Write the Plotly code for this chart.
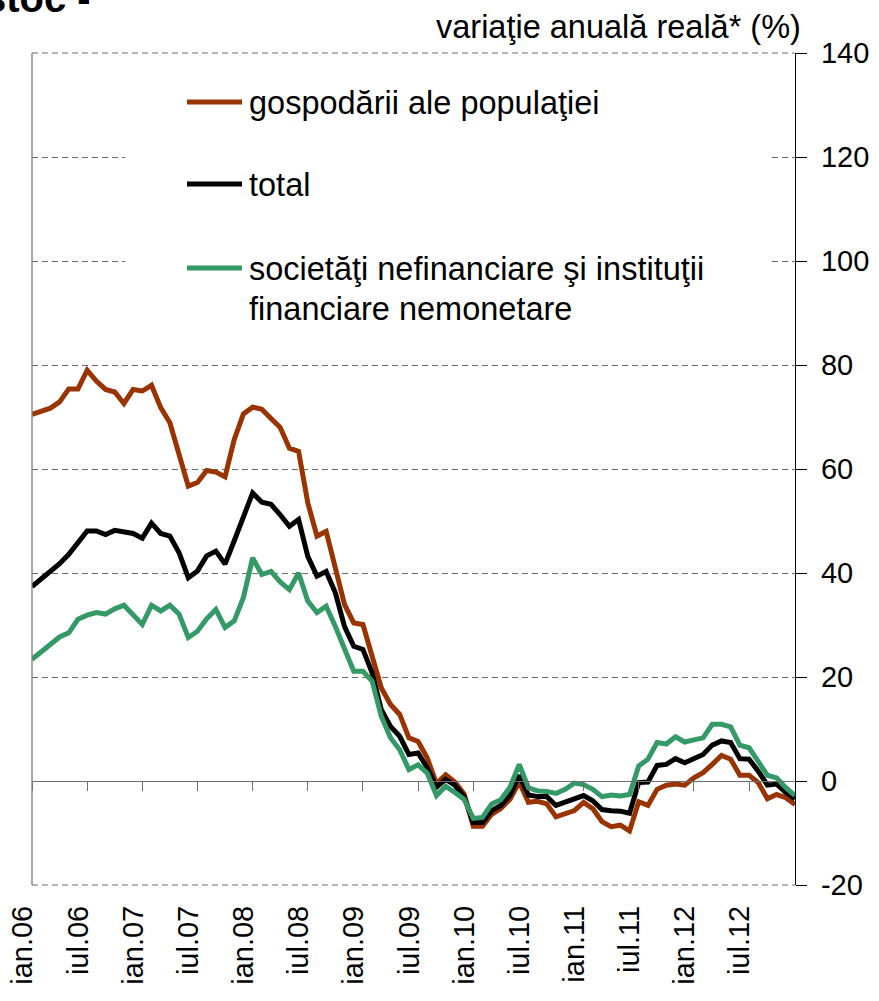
import plotly.graph_objects as go

# ---- data ----
month_abbr = ["ian", "feb", "mar", "apr", "mai", "iun", "iul", "aug", "sep", "oct", "noi", "dec"]
years = ["06", "07", "08", "09", "10", "11", "12"]
months = [f"{m}.{y}" for y in years for m in month_abbr]  # ian.06 ... dec.12

tick_labels = ["ian.06", "iul.06", "ian.07", "iul.07", "ian.08", "iul.08", "ian.09",
               "iul.09", "ian.10", "iul.10", "ian.11", "iul.11", "ian.12", "iul.12"]

gospodarii = [70.5, 71.2, 71.7, 72.9, 75.4, 75.4, 79.0, 76.9, 75.3, 74.8,
              72.6, 75.3, 75.0, 76.1, 71.8, 68.9, 63.1, 56.7, 57.4, 59.7,
              59.4, 58.5, 65.7, 70.6, 71.9, 71.5, 69.7, 68.0, 64.0, 63.4,
              53.5, 47.1, 48.0, 41.3, 33.9, 30.4, 30.1, 24.0, 17.9, 14.7,
              12.8, 8.3, 7.6, 4.4, -0.5, 1.2, -0.2, -2.5, -8.7, -8.7,
              -6.4, -5.3, -3.5, -0.2, -4.1, -3.9, -4.4, -6.9, -6.2, -5.7,
              -4.1, -5.3, -7.8, -8.8, -8.5, -9.6, -4.0, -4.7, -1.6, -0.8,
              -0.6, -0.8, 0.6, 1.6, 3.2, 4.9, 4.2, 1.1, 1.1, -0.3,
              -3.4, -2.6, -3.2, -4.5]

total = [37.4, 38.8, 40.1, 41.8, 43.6, 45.8, 48.1, 48.1, 47.4, 48.2,
         47.9, 47.6, 46.7, 49.6, 47.6, 47.1, 43.9, 39.1, 40.4, 43.3,
         44.2, 41.7, 46.2, 51.0, 55.4, 53.6, 53.2, 51.2, 49.0, 50.3,
         43.2, 39.4, 40.3, 36.2, 29.7, 25.9, 25.3, 20.8, 13.7, 10.5,
         8.6, 5.1, 5.4, 2.5, -1.2, 0.3, -0.8, -3.0, -8.0, -8.0,
         -5.7, -4.7, -2.7, 1.1, -2.7, -3.0, -3.0, -4.7, -4.1, -3.4,
         -2.8, -3.8, -5.5, -5.7, -5.8, -6.2, -0.3, -0.2, 3.0, 3.2,
         4.3, 3.5, 4.3, 5.1, 6.9, 7.7, 7.4, 4.3, 4.2, 1.9,
         -0.8, -0.6, -2.2, -3.4]

societati = [23.4, 24.8, 26.3, 27.7, 28.5, 31.1, 31.9, 32.4, 32.1, 33.1,
             33.8, 32.1, 30.1, 33.8, 32.7, 33.8, 32.1, 27.6, 28.8, 31.2,
             33.0, 29.5, 30.8, 35.3, 42.9, 39.7, 40.3, 38.3, 36.8, 40.0,
             34.6, 32.4, 33.6, 29.7, 25.3, 21.1, 21.1, 19.2, 12.4, 8.3,
             6.0, 2.2, 3.1, 1.5, -2.8, -1.0, -2.2, -3.5, -7.2, -7.0,
             -4.4, -3.6, -1.2, 3.2, -1.3, -1.9, -2.0, -2.4, -1.6, -0.4,
             -0.7, -1.6, -3.0, -2.7, -2.9, -2.6, 2.9, 4.2, 7.4, 7.1,
             8.5, 7.5, 7.9, 8.3, 10.9, 10.9, 10.4, 6.9, 6.4, 3.8,
             1.1, 0.6, -1.3, -2.8]

y_ticks = [-20, 0, 20, 40, 60, 80, 100, 120, 140]
y_tick_text = [str(v) for v in y_ticks]

names = ["gospodării ale populaţiei", "total",
         "societăţi nefinanciare şi instituţii", "financiare nemonetare"]

BROWN = "#993300"
BLACK = "#000000"
GREEN = "#339966"
GRID = "#6a6a6a"
FONT = "Liberation Sans, Arial, sans-serif"
LW = 5

fig = go.Figure()
fig.add_trace(go.Scatter(x=months, y=gospodarii, mode="lines", name=names[0],
                         line=dict(color=BROWN, width=LW), showlegend=False))
fig.add_trace(go.Scatter(x=months, y=total, mode="lines", name=names[1],
                         line=dict(color=BLACK, width=LW), showlegend=False))
fig.add_trace(go.Scatter(x=months, y=societati, mode="lines",
                         name=names[2] + " " + names[3],
                         line=dict(color=GREEN, width=LW), showlegend=False))
# empty trace to carry the axis drawn on the zero line
fig.add_trace(go.Scatter(x=[], y=[], xaxis="x2", showlegend=False, hoverinfo="skip"))

L, R, T, B = 32, 84, 53, 116
W, H = 879, 1001
pw = W - L - R
ph = H - T - B

def px_x(px):
    return (px - L) / pw

def px_y(py):
    return (H - B - py) / ph

tick_idx = [months.index(t) for t in tick_labels]
zero_pos = (0 - y_ticks[0]) / (y_ticks[-1] - y_ticks[0])

fig.update_layout(
    width=W, height=H,
    margin=dict(l=L, r=R, t=T, b=B, autoexpand=False),
    paper_bgcolor="white", plot_bgcolor="white",
    font=dict(family=FONT, size=29, color="black"),
    xaxis=dict(
        type="category", range=[0, len(months) - 1], automargin=False,
        tickmode="array", tickvals=tick_labels, ticktext=tick_labels,
        tickangle=-90, ticks="", showline=False, showgrid=False, zeroline=False,
        tickfont=dict(size=29), ticklabelshift=-9, ticklabelstandoff=14,
    ),
    xaxis2=dict(
        overlaying="x", anchor="free", position=zero_pos,
        range=[0, len(months) - 1], tickmode="array", tickvals=tick_idx,
        showticklabels=False, ticks="outside", ticklen=9, tickcolor="#6e6e6e",
        showline=True, linecolor="#6e6e6e", linewidth=1.3,
        showgrid=False, zeroline=False, automargin=False,
    ),
    yaxis=dict(
        side="right", range=[y_ticks[0], y_ticks[-1]], tickmode="array",
        tickvals=y_ticks, ticktext=y_tick_text,
        showgrid=True, gridcolor=GRID, gridwidth=1,
        griddash="6px,4px", zeroline=False, automargin=False,
        showline=True, linecolor="black", linewidth=1.3,
        ticks="outside", ticklen=11, tickcolor="black",
        tickfont=dict(size=29), ticklabelstandoff=8,
    ),
    hovermode=False,
)

# left border of plot area
fig.add_shape(type="line", xref="paper", yref="paper", x0=0, x1=0, y0=0, y1=1,
              line=dict(color="#7a7a7a", width=1.3), layer="above")
# dashed gridlines at the range edges (top and bottom of the plot box)
for yp in (0, 1):
    fig.add_shape(type="line", xref="paper", yref="paper", x0=0, x1=1, y0=yp, y1=yp,
                  line=dict(color=GRID, width=1.2, dash="6px,4px"), layer="above")

# white legend panel hiding gridlines
fig.add_shape(type="rect", xref="paper", yref="paper", layer="above",
              x0=px_x(125), x1=px_x(772), y0=px_y(330), y1=px_y(62),
              fillcolor="white", line=dict(width=0))

# legend samples and labels
legend_rows = [(BROWN, 102, names[0]), (BLACK, 184, names[1]), (GREEN, 268, names[2])]
for color, yy, label in legend_rows:
    fig.add_shape(type="line", xref="paper", yref="paper", layer="above",
                  x0=px_x(187), x1=px_x(242), y0=px_y(yy), y1=px_y(yy),
                  line=dict(color=color, width=LW))
    fig.add_annotation(xref="paper", yref="paper", x=px_x(247), y=px_y(yy + 1),
                       xanchor="left", yanchor="middle", text=label,
                       showarrow=False, font=dict(size=32.5, color="black"))
fig.add_annotation(xref="paper", yref="paper", x=px_x(247), y=px_y(309),
                   xanchor="left", yanchor="middle", text=names[3],
                   showarrow=False, font=dict(size=32.5, color="black"))

# unit label
fig.add_annotation(xref="paper", yref="paper", x=px_x(803), y=px_y(27),
                   xanchor="right", yanchor="middle",
                   text="variaţie anuală reală* (%)", showarrow=False,
                   font=dict(size=32.5, color="black"))

# clipped title fragment
fig.add_annotation(xref="paper", yref="paper", x=px_x(93), y=px_y(-2),
                   xanchor="right", yanchor="middle",
                   text="<b>stoc -</b>", showarrow=False,
                   font=dict(size=40, color="black"))

fig.write_html("out.html", config={"displayModeBar": False},
               post_script="document.body.style.margin='0';")
